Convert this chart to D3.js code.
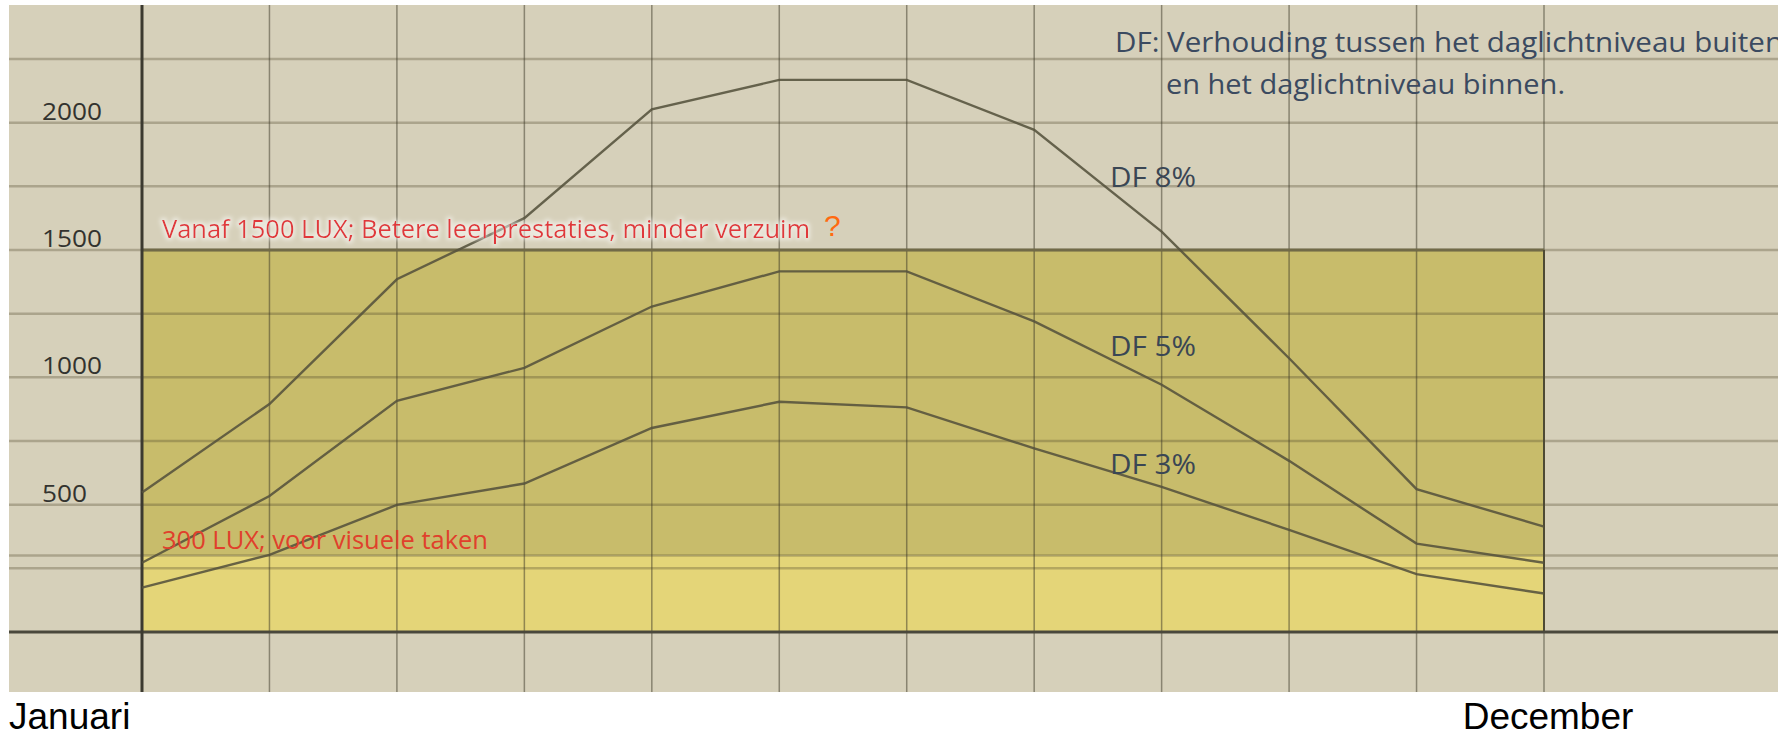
<!DOCTYPE html>
<html lang="nl">
<head>
<meta charset="UTF-8">
<title>Daglicht per maand</title>
<script src="https://d3js.org/d3.v7.min.js"></script>
<style>
  body { margin: 0; background: #fff; }
  svg { display: block; }
</style>
</head>
<body>
<div id="chart"></div>
<script>
// months (only Januari and December are labelled in the picture)
const months = ["jan", "feb", "mrt", "apr", "mei", "jun", "jul", "aug", "sep", "okt", "nov", "dec"];

// lux inside, per daylight factor
const df8 = [548, 895, 1385, 1625, 2052, 2168, 2168, 1972, 1572, 1075, 561, 414];
const df5 = [272, 534, 908, 1037, 1278, 1416, 1416, 1220, 971, 672, 347, 272];
const df3 = [174, 303, 499, 583, 801, 904, 882, 721, 570, 401, 227, 151];

const seriesNames = ["DF 8%", "DF 5%", "DF 3%"];

// reference bands (lux)
const bandLow = [0, 300];
const bandHigh = [300, 1500];

const yTickLabels = [500, 1000, 1500, 2000];
const gridValues = [250, 300, 500, 750, 1000, 1250, 1500, 1750, 2000, 2250];

const width = 1778, height = 739;
const plotTop = 5, plotBottom = 692, plotLeft = 9;

const x = d3.scalePoint().domain(months).range([142, 1544]);
const y = d3.scaleLinear().domain([0, 1500]).range([632, 250]);

const svg = d3.select("#chart").append("svg")
    .attr("width", width)
    .attr("height", height);

// soft white glow behind the red notes
const defs = svg.append("defs");
const glow = defs.append("filter").attr("id", "glow")
    .attr("x", "-5%").attr("y", "-40%").attr("width", "110%").attr("height", "180%");
glow.append("feMorphology").attr("in", "SourceAlpha").attr("operator", "dilate").attr("radius", 1.5).attr("result", "d");
glow.append("feGaussianBlur").attr("in", "d").attr("stdDeviation", 2).attr("result", "b");
glow.append("feFlood").attr("flood-color", "#fff").attr("flood-opacity", 0.55);
glow.append("feComposite").attr("in2", "b").attr("operator", "in").attr("result", "g");
const merge = glow.append("feMerge");
merge.append("feMergeNode").attr("in", "g");
merge.append("feMergeNode").attr("in", "SourceGraphic");

// background
svg.append("rect")
    .attr("x", plotLeft).attr("y", plotTop)
    .attr("width", width - plotLeft).attr("height", plotBottom - plotTop)
    .attr("fill", "#d6d0ba");

// bands between January and December
svg.append("rect")
    .attr("x", x("jan")).attr("y", y(bandHigh[1]))
    .attr("width", x("dec") - x("jan")).attr("height", y(bandHigh[0]) - y(bandHigh[1]))
    .attr("fill", "#c8bc6b");
svg.append("rect")
    .attr("x", x("jan")).attr("y", y(bandLow[1]))
    .attr("width", x("dec") - x("jan")).attr("height", y(bandLow[0]) - y(bandLow[1]))
    .attr("fill", "#e4d578");

// horizontal grid
svg.append("g")
    .selectAll("line")
    .data(gridValues)
    .join("line")
    .attr("x1", plotLeft).attr("x2", width)
    .attr("y1", d => y(d)).attr("y2", d => y(d))
    .attr("stroke", "rgba(80,72,45,0.32)")
    .attr("stroke-width", 2.5);

// vertical grid
svg.append("g")
    .selectAll("line")
    .data(months.slice(1))
    .join("line")
    .attr("x1", d => x(d)).attr("x2", d => x(d))
    .attr("y1", plotTop).attr("y2", plotBottom)
    .attr("stroke", "rgba(60,55,40,0.5)")
    .attr("stroke-width", 1.5);

// band outline: top at 1500 and right edge at December
svg.append("line")
    .attr("x1", x("jan")).attr("x2", x("dec"))
    .attr("y1", y(1500)).attr("y2", y(1500))
    .attr("stroke", "#716a48").attr("stroke-width", 3);
svg.append("line")
    .attr("x1", x("dec")).attr("x2", x("dec"))
    .attr("y1", y(1500)).attr("y2", y(0))
    .attr("stroke", "#4e4a34").attr("stroke-width", 2);

// axes
svg.append("line")
    .attr("x1", plotLeft).attr("x2", width)
    .attr("y1", y(0)).attr("y2", y(0))
    .attr("stroke", "#4a483c").attr("stroke-width", 3);
svg.append("line")
    .attr("x1", x("jan")).attr("x2", x("jan"))
    .attr("y1", plotTop).attr("y2", plotBottom)
    .attr("stroke", "#3c3a30").attr("stroke-width", 3);

// daylight curves
const line = d3.line()
    .x((d, i) => x(months[i]))
    .y(d => y(d));

svg.append("g")
    .selectAll("path")
    .data([df8, df5, df3])
    .join("path")
    .attr("d", line)
    .attr("fill", "none")
    .attr("stroke", "#55523c")
    .attr("stroke-opacity", 0.88)
    .attr("stroke-width", 2.4);

// y labels
svg.append("g")
    .selectAll("text")
    .data(yTickLabels)
    .join("text")
    .attr("x", 42)
    .attr("y", d => y(d) - 3)
    .attr("font-family", "'Open Sans', sans-serif")
    .attr("font-size", 24)
    .attr("fill", "#33332f")
    .attr("textLength", d => String(d).length * 15)
    .attr("lengthAdjust", "spacingAndGlyphs")
    .text(d => d);

// series labels
const seriesLabelY = [187, 356, 474];
svg.append("g")
    .selectAll("text")
    .data(seriesNames)
    .join("text")
    .attr("x", 1110)
    .attr("y", (d, i) => seriesLabelY[i])
    .attr("font-family", "'Open Sans', sans-serif")
    .attr("font-size", 27)
    .attr("fill", "#3a4654")
    .attr("textLength", 86)
    .attr("lengthAdjust", "spacingAndGlyphs")
    .text(d => d);

// explanation top right
const note = svg.append("g")
    .attr("font-family", "'Open Sans', sans-serif")
    .attr("font-size", 27)
    .attr("fill", "#3b4a60");
note.append("text")
    .attr("x", 1115).attr("y", 52)
    .attr("textLength", 668).attr("lengthAdjust", "spacingAndGlyphs")
    .text("DF: Verhouding tussen het daglichtniveau buiten");
note.append("text")
    .attr("x", 1166).attr("y", 94)
    .attr("textLength", 399).attr("lengthAdjust", "spacingAndGlyphs")
    .text("en het daglichtniveau binnen.");

// red notes
svg.append("text")
    .attr("x", 162).attr("y", y(1500) - 12)
    .attr("font-family", "'Open Sans', sans-serif")
    .attr("font-size", 26)
    .attr("fill", "#e0393b")
    .attr("filter", "url(#glow)")
    .attr("textLength", 648).attr("lengthAdjust", "spacingAndGlyphs")
    .text("Vanaf 1500 LUX; Betere leerprestaties, minder verzuim");
svg.append("text")
    .attr("x", 824).attr("y", y(1500) - 14)
    .attr("font-family", "'Liberation Sans', Arial, sans-serif")
    .attr("font-size", 30)
    .attr("fill", "#ff6a10")
    .text("?");
svg.append("text")
    .attr("x", 162).attr("y", y(300) - 7)
    .attr("font-family", "'Open Sans', sans-serif")
    .attr("font-size", 26)
    .attr("fill", "#e0402c")
    .attr("textLength", 326).attr("lengthAdjust", "spacingAndGlyphs")
    .text("300 LUX;  voor visuele taken");

// month labels under the chart
svg.append("text")
    .attr("x", 9).attr("y", 729)
    .attr("font-family", "'Liberation Sans', Arial, sans-serif")
    .attr("font-size", 37)
    .attr("fill", "#000")
    .text("Januari");
svg.append("text")
    .attr("x", x("dec") + 4).attr("y", 729)
    .attr("text-anchor", "middle")
    .attr("font-family", "'Liberation Sans', Arial, sans-serif")
    .attr("font-size", 37)
    .attr("fill", "#000")
    .text("December");
</script>
</body>
</html>
